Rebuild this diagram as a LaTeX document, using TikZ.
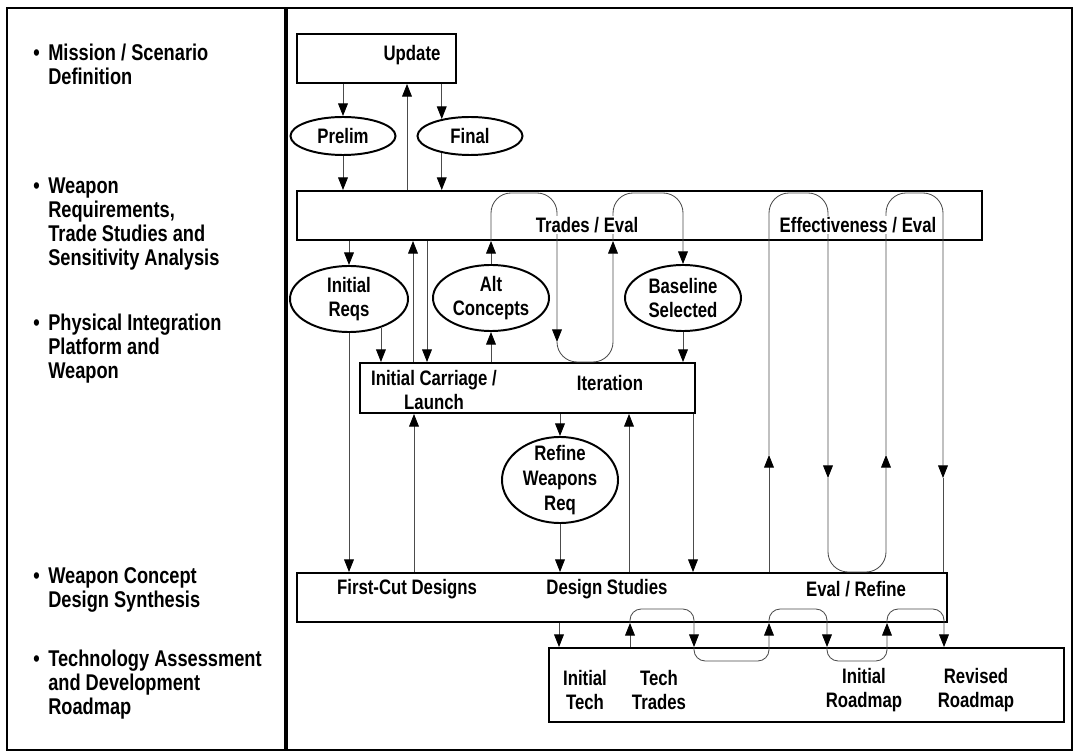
\documentclass[tikz,border=0pt]{standalone}
\usepackage{fontspec}
\newfontfamily\diagfamily{Liberation Sans}[FakeStretch=0.8]
\usetikzlibrary{arrows.meta,shapes.geometric,fit,positioning}
\newcommand{\boxfont}{\diagfamily\bfseries\fontsize{14.9}{17.6}\selectfont}
\newcommand{\sidefont}{\diagfamily\bfseries\fontsize{16.2}{17}\selectfont}
\newcommand{\sidebullet}{\llap{\textbullet\hspace{6pt}}}

\begin{document}
\begin{tikzpicture}[
        x=0.025cm, y=-0.025cm,
        stagebox/.style={draw, line width=1.4pt, fill=white, inner sep=0pt},
        bubble/.style={ellipse, draw, line width=1.4pt, fill=white, inner sep=0pt, align=center, font=\boxfont},
        boxlabel/.style={align=center, font=\boxfont, fill=white, inner sep=1pt},
        sidetext/.style={anchor=west, align=left, font=\sidefont, inner sep=0pt},
        flow/.style={draw=black!70, line width=0.6pt, -{Triangle[length=9pt,width=7pt,color=black]}},
        link/.style={draw=black!70, line width=0.6pt},
        bigloop/.style={rounded corners=0.5cm},
        smallloop/.style={rounded corners=0.28cm}
    ]
    \useasboundingbox (0,0) rectangle (1077,753);

    % Frame
    \draw[line width=1.5pt] (7,8) rectangle (1072,750);
    \draw[line width=2.5pt] (286,8) -- (286,750);

    % Side labels
    \node[sidetext] (mission) at (48,64) {\sidebullet Mission / Scenario\\Definition};
    \node[sidetext] (weaponreq) at (48,224) {\sidebullet Weapon\\Requirements,\\Trade Studies and\\Sensitivity Analysis};
    \node[sidetext] (physical) at (48,349) {\sidebullet Physical Integration\\Platform and\\Weapon};
    \node[sidetext] (synthesis) at (48,590) {\sidebullet Weapon Concept\\Design Synthesis};
    \node[sidetext] (techroad) at (48,685) {\sidebullet Technology Assessment\\and Development\\Roadmap};

    % Boxes
    \node[stagebox, fit={(297,34) (456,83)}] (updbox) {};
    \node[stagebox, fit={(297,191) (982,240)}] (reqbox) {};
    \node[stagebox, fit={(360,363) (695,413)}] (intbox) {};
    \node[stagebox, fit={(297,573) (947,622)}] (desbox) {};
    \node[stagebox, fit={(549,648) (1064,722)}] (techbox) {};

    % Ellipses
    \node[bubble, minimum width=2.625cm, minimum height=0.95cm] (prelim) at (343,136) {Prelim};
    \node[bubble, minimum width=2.625cm, minimum height=0.95cm] (final) at (470,136) {Final};
    \node[bubble, minimum width=2.95cm, minimum height=1.65cm] (initreqs) at (349,299) {Initial\\Reqs};
    \node[bubble, minimum width=2.9cm, minimum height=1.65cm] (altcon) at (491,298) {Alt\\Concepts};
    \node[bubble, minimum width=2.9cm, minimum height=1.65cm] (basesel) at (683,298) {Baseline\\Selected};
    \node[bubble, minimum width=2.9cm, minimum height=2.15cm, inner sep=-3pt] (refine) at (560,480) {Refine\\Weapons\\Req};

    % Edges
    \draw[flow] (updbox.south -| prelim.north) -- (prelim.north);
    \draw[flow] (updbox.south -| final.149) -- (final.149);
    \draw[flow] (prelim.south) -- (prelim.south |- reqbox.north);
    \draw[flow] (final.211) -- (final.211 |- reqbox.north);
    \draw[flow] (reqbox.north -| 407,0) -- (updbox.south -| 407,0);

    \draw[flow] (reqbox.south -| initreqs.north) -- (initreqs.north);
    \draw[flow] (initreqs.south) -- (initreqs.south |- desbox.north);
    \draw[flow] (initreqs.318) -- (initreqs.318 |- intbox.north);
    \draw[flow] (intbox.north -| 413,0) -- (reqbox.south -| 413,0);
    \draw[flow] (reqbox.south -| 427,0) -- (intbox.north -| 427,0);
    \draw[flow] (intbox.north -| altcon.south) -- (altcon.south);
    \draw[flow] (altcon.north) -- (altcon.north |- reqbox.south);
    \draw[flow, bigloop] (altcon.north |- reqbox.south) -- (491,193) -- (557,193) -- (557,342);
    \draw[flow, bigloop] (557,342) -- (557,362) -- (613,362) -- (reqbox.south -| 613,0);
    \draw[flow, bigloop] (reqbox.south -| 613,0) -- (613,193) -- (basesel.north |- 0,193) -- (basesel.north);
    \draw[flow] (basesel.south) -- (basesel.south |- intbox.north);

    \draw[flow] (desbox.north -| 414,0) -- (intbox.south -| 414,0);
    \draw[flow] (intbox.south -| refine.north) -- (refine.north);
    \draw[flow] (refine.south) -- (refine.south |- desbox.north);
    \draw[flow] (desbox.north -| 629,0) -- (intbox.south -| 629,0);
    \draw[flow] (intbox.south -| 693,0) -- (desbox.north -| 693,0);

    \draw[flow] (desbox.north -| 769,0) -- (769,455);
    \draw[flow, bigloop] (769,455) -- (769,193) -- (828,193) -- (828,478);
    \draw[flow, bigloop] (828,478) -- (828,572) -- (886,572) -- (886,455);
    \draw[flow, bigloop] (886,455) -- (886,193) -- (943,193) -- (943,478);
    \draw[link] (943,478) -- (desbox.north -| 943,0);

    \draw[flow] (desbox.south -| 559,0) -- (techbox.north -| 559,0);
    \draw[flow] (techbox.north -| 630,0) -- (desbox.south -| 630,0);
    \draw[flow, smallloop] (desbox.south -| 630,0) -- (630,609) -- (694,609) -- (techbox.north -| 694,0);
    \draw[flow, smallloop] (techbox.north -| 694,0) -- (694,661) -- (769,661) -- (desbox.south -| 769,0);
    \draw[flow, smallloop] (desbox.south -| 769,0) -- (769,609) -- (827,609) -- (techbox.north -| 827,0);
    \draw[flow, smallloop] (techbox.north -| 827,0) -- (827,661) -- (887,661) -- (desbox.south -| 887,0);
    \draw[flow, smallloop] (desbox.south -| 887,0) -- (887,609) -- (944,609) -- (techbox.north -| 944,0);

    % Box labels
    \node[boxlabel] (updlabel) at (412,55) {Update};
    \node[boxlabel] (tradeslabel) at (587,225) {Trades / Eval};
    \node[boxlabel] (efflabel) at (858,225) {Effectiveness / Eval};
    \node[boxlabel] (carriagelabel) at (434,390) {Initial Carriage /\\Launch};
    \node[boxlabel] (iterlabel) at (610,383) {Iteration};
    \node[boxlabel] (firstcut) at (407,589) {First-Cut Designs};
    \node[boxlabel] (studies) at (607,589) {Design Studies};
    \node[boxlabel] (evalrefine) at (856,589) {Eval / Refine};
    \node[boxlabel] (inittech) at (585,690) {Initial\\Tech};
    \node[boxlabel] (techtrades) at (659,690) {Tech\\Trades};
    \node[boxlabel] (initroad) at (864,690) {Initial\\Roadmap};
    \node[boxlabel] (revroad) at (976,690) {Revised\\Roadmap};

\end{tikzpicture}
\end{document}
